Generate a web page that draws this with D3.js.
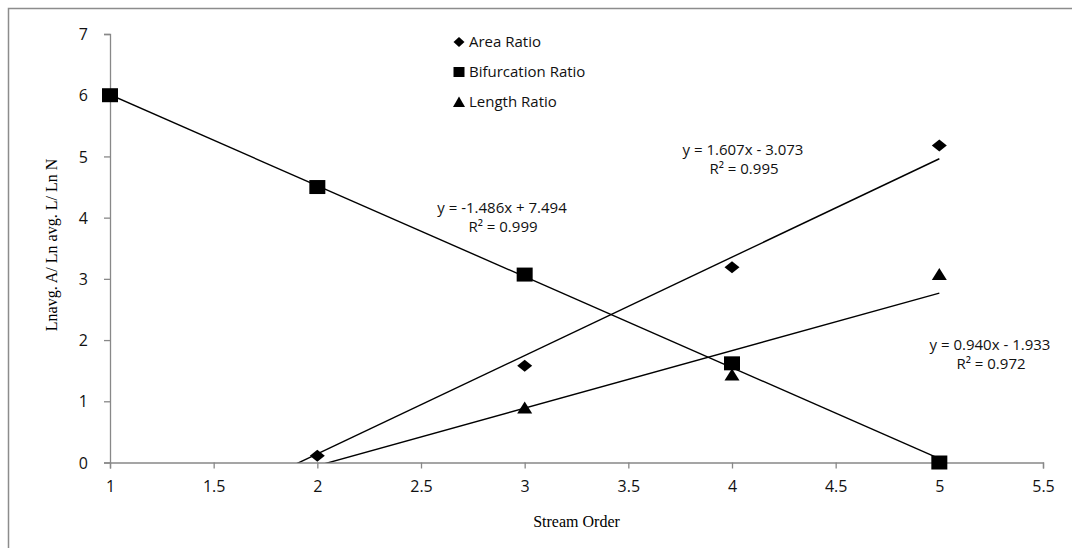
<!DOCTYPE html>
<html>
<head>
<meta charset="utf-8">
<script src="https://cdn.jsdelivr.net/npm/d3@7"></script>
<style>
  html, body { margin: 0; padding: 0; background: #fff; }
  svg { display: block; }
</style>
</head>
<body>
<svg id="chart" width="1072" height="548"></svg>
<script>
// ---- data ----
const streamOrder = [1, 2, 3, 4, 5];
const areaX = [2, 3, 4, 5];
const areaY = [0.11, 1.58, 3.19, 5.18];
const bifX = [1, 2, 3, 4, 5];
const bifY = [6.0, 4.5, 3.07, 1.62, 0.0];
const lenX = [3, 4, 5];
const lenY = [0.89, 1.43, 3.07];
const seriesNames = ["Area Ratio", "Bifurcation Ratio", "Length Ratio"];
// trendlines: [slope, intercept, r2]
const areaTrend = [1.607, -3.073, 0.995];
const bifTrend = [-1.486, 7.494, 0.999];
const lenTrend = [0.940, -1.933, 0.972];
const xTicks = [1, 1.5, 2, 2.5, 3, 3.5, 4, 4.5, 5, 5.5];
const yTicks = [0, 1, 2, 3, 4, 5, 6, 7];
const xTitle = "Stream Order";
const yTitle = "Lnavg. A/ Ln avg. L/ Ln N";

const svg = d3.select("#chart");
const sans = "'Open Sans', 'DejaVu Sans', sans-serif";
const serif = "'Liberation Serif', 'DejaVu Serif', serif";

// outer frame
svg.append("rect").attr("x", 8.5).attr("y", 8.5).attr("width", 1200).attr("height", 700)
  .attr("fill", "none").attr("stroke", "#8c8c8c").attr("stroke-width", 1.5);

const x = d3.scaleLinear().domain([1, 5.5]).range([110, 1043]);
const y = d3.scaleLinear().domain([0, 7]).range([462.5, 34]);

// clip
svg.append("clipPath").attr("id", "plotclip").append("rect")
  .attr("x", 110).attr("y", 34).attr("width", 933).attr("height", 428.5);

// axes
const gx = svg.append("g").attr("transform", `translate(0,${y(0)})`)
  .call(d3.axisBottom(x).tickValues(xTicks).tickFormat(d3.format("")).tickSize(6).tickPadding(12));
const gy = svg.append("g").attr("transform", `translate(${x(1)},0)`)
  .call(d3.axisLeft(y).tickValues(yTicks).tickFormat(d3.format("d")).tickSize(6).tickPadding(16));
[gx, gy].forEach(g => {
  g.select(".domain").attr("stroke", "#888").attr("stroke-width", 1.3);
  g.selectAll(".tick line").attr("stroke", "#888").attr("stroke-width", 1.3);
  g.selectAll(".tick text").attr("fill", "#111").style("font-family", sans).style("font-size", "16px");
});
gy.selectAll(".tick text").attr("dy", "0.35em");

// trendlines
function trend(t) {
  return [[1, t[0] * 1 + t[1]], [5, t[0] * 5 + t[1]]];
}
const line = d3.line().x(d => x(d[0])).y(d => y(d[1]));
const tg = svg.append("g").attr("clip-path", "url(#plotclip)");
[areaTrend, bifTrend, lenTrend].forEach(t => {
  tg.append("path").attr("d", line(trend(t))).attr("fill", "none")
    .attr("stroke", "#000").attr("stroke-width", 1.4);
});

// markers
const diamond = (cx, cy) => `M${cx},${cy - 6}L${cx + 7.5},${cy}L${cx},${cy + 6}L${cx - 7.5},${cy}Z`;
const square = (cx, cy) => `M${cx - 8},${cy - 7}h16v14h-16Z`;
const tri = (cx, cy) => `M${cx},${cy - 6.5}L${cx + 7.5},${cy + 5.5}L${cx - 7.5},${cy + 5.5}Z`;

const mg = svg.append("g");
bifX.forEach((d, i) => mg.append("path").attr("d", square(x(d), y(bifY[i]))).attr("fill", "#000"));
lenX.forEach((d, i) => mg.append("path").attr("d", tri(x(d), y(lenY[i]))).attr("fill", "#000"));
areaX.forEach((d, i) => mg.append("path").attr("d", diamond(x(d), y(areaY[i]))).attr("fill", "#000"));

// legend
const legMarkers = [
  (cx, cy) => `M${cx},${cy - 5}L${cx + 5.5},${cy}L${cx},${cy + 5}L${cx - 5.5},${cy}Z`,
  (cx, cy) => `M${cx - 5.5},${cy - 5}h11v10h-11Z`,
  (cx, cy) => `M${cx},${cy - 5.5}L${cx + 6},${cy + 5}L${cx - 6},${cy + 5}Z`
];
seriesNames.forEach((n, i) => {
  const cy = 42 + i * 30;
  svg.append("path").attr("d", legMarkers[i](459, cy)).attr("fill", "#000");
  svg.append("text").attr("x", 469).attr("y", cy).attr("dy", "0.35em").attr("fill", "#111")
    .style("font-family", sans).style("font-size", "15px").text(n);
});

// trend labels
function eq(t) {
  const s = t[0].toFixed(3);
  const b = Math.abs(t[1]).toFixed(3);
  return `y = ${s}x ${t[1] < 0 ? "-" : "+"} ${b}`;
}
const labels = [
  { t: areaTrend, cx: 743, cy: 150 },
  { t: bifTrend, cx: 502, cy: 208 },
  { t: lenTrend, cx: 990, cy: 345 }
];
labels.forEach(l => {
  svg.append("text").attr("x", l.cx).attr("y", l.cy).attr("dy", "0.35em").attr("text-anchor", "middle")
    .attr("fill", "#111").style("font-family", sans).style("font-size", "15px").text(eq(l.t));
  svg.append("text").attr("x", l.cx + 1).attr("y", l.cy + 19).attr("dy", "0.35em").attr("text-anchor", "middle")
    .attr("fill", "#111").style("font-family", sans).style("font-size", "15px").text(`R² = ${l.t[2].toFixed(3)}`);
});

// axis titles
svg.append("text").attr("x", (x(1) + x(5.5)) / 2).attr("y", 521).attr("dy", "0.35em")
  .attr("text-anchor", "middle").style("font-family", serif).style("font-size", "16px").text(xTitle);
svg.append("text").attr("transform", "translate(51,245) rotate(-90)").attr("dy", "0.35em")
  .attr("text-anchor", "middle").style("font-family", serif).style("font-size", "16px").text(yTitle);
</script>
</body>
</html>
